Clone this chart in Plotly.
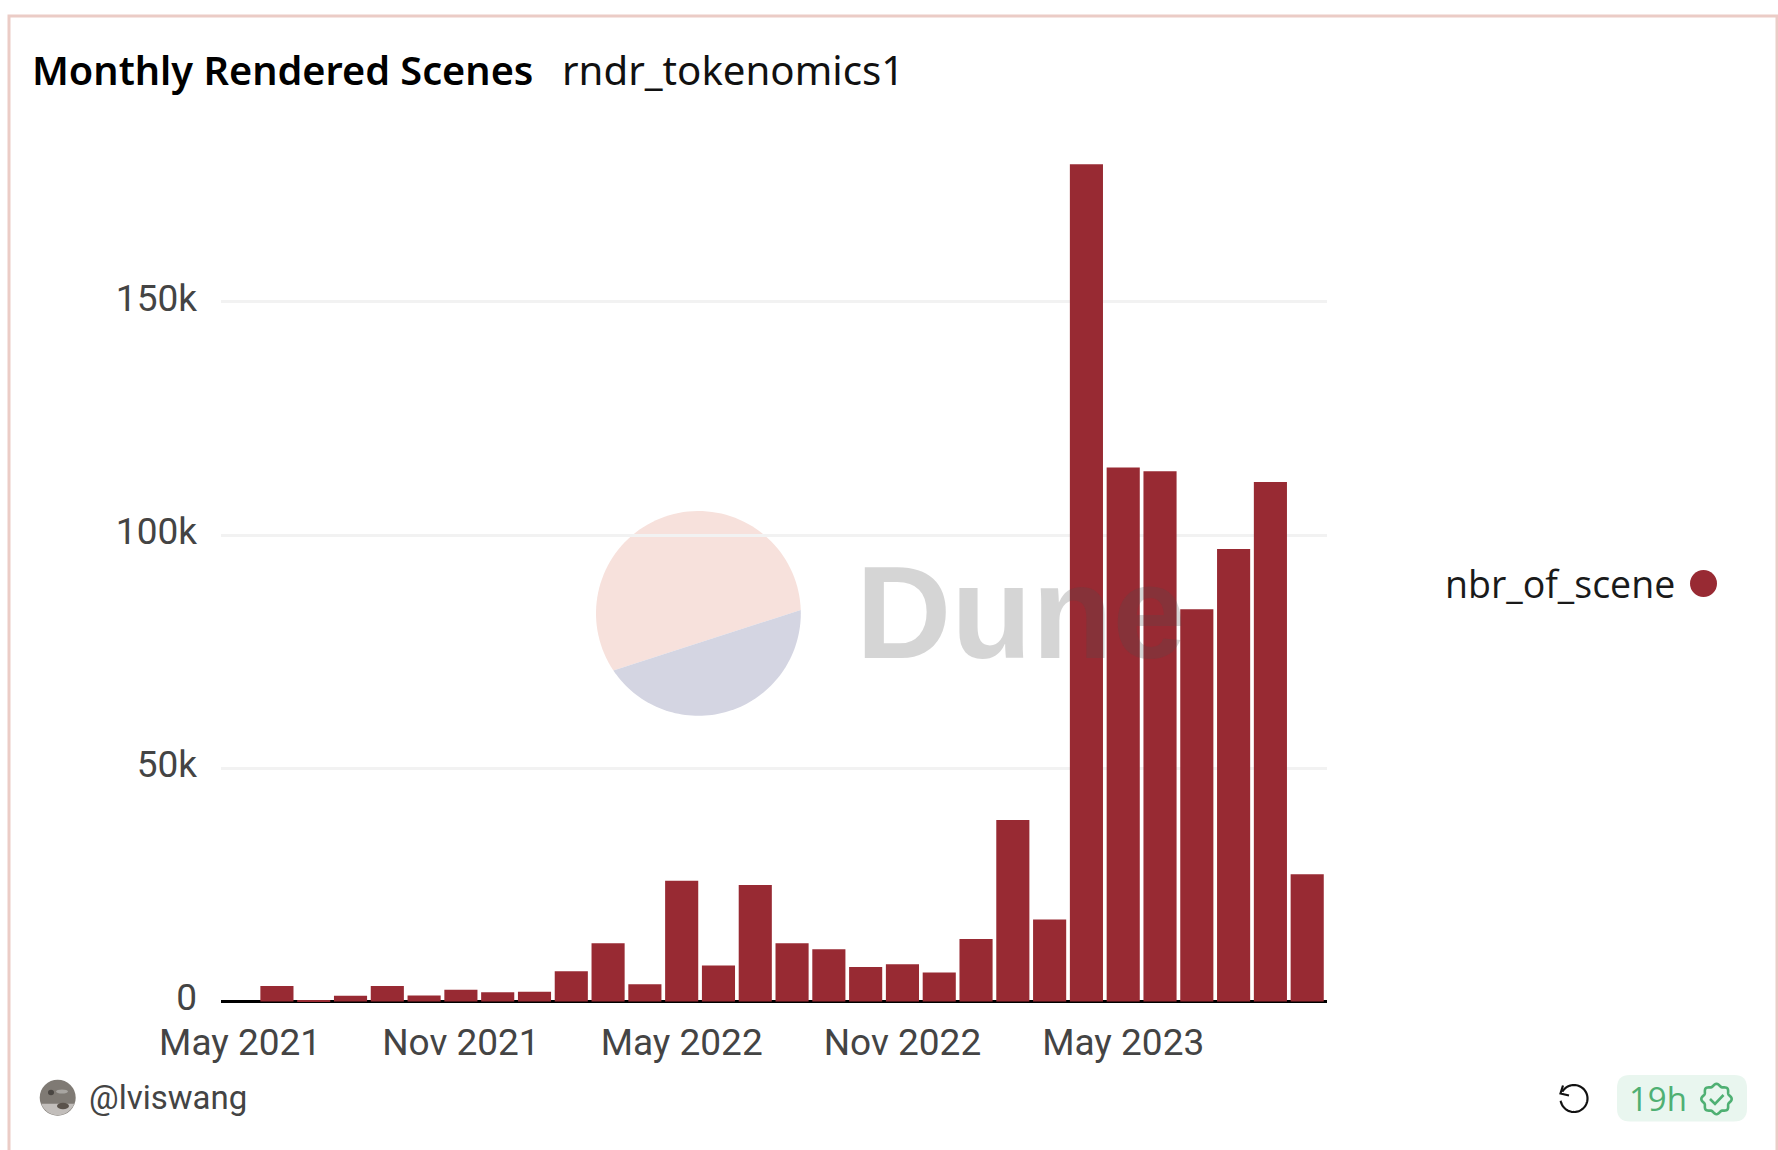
import numpy as np
import plotly.graph_objects as go

W, H = 1778, 1150

months = ["May 2021","Jun 2021","Jul 2021","Aug 2021","Sep 2021","Oct 2021","Nov 2021","Dec 2021",
          "Jan 2022","Feb 2022","Mar 2022","Apr 2022","May 2022","Jun 2022","Jul 2022","Aug 2022",
          "Sep 2022","Oct 2022","Nov 2022","Dec 2022","Jan 2023","Feb 2023","Mar 2023","Apr 2023",
          "May 2023","Jun 2023","Jul 2023","Aug 2023","Sep 2023","Oct 2023"]
nbr_of_scene = [0, 3300, 300, 1200, 3300, 1300, 2500, 2000, 2100, 6500, 12500, 3700, 25900, 7700, 25000,
                12500, 11200, 7400, 8000, 6200, 13400, 38900, 17600, 179500, 114500, 113700, 84100,
                97000, 111400, 27300]
x_ticks = ["May 2021", "Nov 2021", "May 2022", "Nov 2022", "May 2023"]
y_ticks = [0, 50000, 100000, 150000]
y_labels = ["0", "50k", "100k", "150k"]

RED = "#982a33"
AXIS_FONT = "Roboto, sans-serif"
TITLE_FONT = "'Noto Sans', sans-serif"


def px(x):
    return x / W


def py(y):
    return 1 - y / H


def poly(xs, ys, close=True):
    d = "M " + " L ".join(f"{px(a):.5f},{py(b):.5f}" for a, b in zip(xs, ys))
    return d + (" Z" if close else "")


def oval(cx, cy, rx, ry, fill):
    return dict(type="circle", xref="paper", yref="paper", x0=px(cx - rx), x1=px(cx + rx),
                y0=py(cy + ry), y1=py(cy - ry), line=dict(width=0), fillcolor=fill)


shapes = []

# panel border
shapes.append(dict(type="rect", xref="paper", yref="paper", x0=px(9), x1=px(1777), y0=py(16), y1=py(1170),
                   line=dict(color="#ebccc6", width=3), fillcolor="rgba(0,0,0,0)", layer="below"))

# watermark disc, split along a chord
cx, cy, r = 698.4, 613.4, 102.4
a0 = np.arctan2(cy - 610, 800.7 - cx)       # right end of the chord
a1 = np.arctan2(cy - 670, 614 - cx)         # left end of the chord
if a1 < a0:
    a1 += 2 * np.pi
t = np.linspace(a0, a1, 80)
shapes.append(dict(type="path", xref="paper", yref="paper", layer="below", line=dict(width=0),
                   fillcolor="#f7e1dc", path=poly(cx + r * np.cos(t), cy - r * np.sin(t))))
t = np.linspace(a1, a0 + 2 * np.pi, 80)
shapes.append(dict(type="path", xref="paper", yref="paper", layer="below", line=dict(width=0),
                   fillcolor="#d4d5e2", path=poly(cx + r * np.cos(t), cy - r * np.sin(t))))

# legend dot
shapes.append(oval(1703.5, 583.5, 13.5, 13.5, RED))

# avatar: a photo in the reference, approximated by a few soft patches
shapes.append(oval(57.7, 1097.7, 18, 18, "#7f7a74"))
t = np.linspace(np.radians(-160), np.radians(-20), 40)
shapes.append(dict(type="path", xref="paper", yref="paper", line=dict(width=0), fillcolor="#c2bebb",
                   path=poly(57.7 + 17.5 * np.cos(t), 1097.7 - 17.5 * np.sin(t))))
shapes.append(oval(63, 1106, 6, 3.2, "#5a524b"))
shapes.append(oval(51, 1092.5, 3, 2.8, "#4a4642"))
shapes.append(oval(62, 1091.5, 6, 2, "#a8a5a1"))

# refresh icon
t = np.linspace(np.radians(150), np.radians(-170), 60)
ix, iy = 1574, 1098.5
shapes.append(dict(type="path", xref="paper", yref="paper", line=dict(color="#111111", width=2.2),
                   path=poly(ix + 13.5 * np.cos(t), iy - 13.5 * np.sin(t), close=False)))
shapes.append(dict(type="path", xref="paper", yref="paper", line=dict(color="#111111", width=2.2),
                   path=poly([1563, 1560.5, 1569], [1085.5, 1093.5, 1095.5], close=False)))

# freshness badge
bx0, bx1, by0, by1, br = 1617, 1747, 1075, 1121.5, 13
shapes.append(dict(type="path", xref="paper", yref="paper", line=dict(width=0), fillcolor="#e9f6ef",
                   path=(f"M {px(bx0+br)},{py(by0)} L {px(bx1-br)},{py(by0)} Q {px(bx1)},{py(by0)} {px(bx1)},{py(by0+br)} "
                         f"L {px(bx1)},{py(by1-br)} Q {px(bx1)},{py(by1)} {px(bx1-br)},{py(by1)} "
                         f"L {px(bx0+br)},{py(by1)} Q {px(bx0)},{py(by1)} {px(bx0)},{py(by1-br)} "
                         f"L {px(bx0)},{py(by0+br)} Q {px(bx0)},{py(by0)} {px(bx0+br)},{py(by0)} Z")))
t = np.linspace(0, 2 * np.pi, 97)
sx, sy = 1716.5, 1099
rad = 14 + 1.2 * np.cos(8 * t)
shapes.append(dict(type="path", xref="paper", yref="paper", line=dict(color="#4fb073", width=2.6),
                   path=poly(sx + rad * np.cos(t), sy - rad * np.sin(t))))
shapes.append(dict(type="path", xref="paper", yref="paper", line=dict(color="#4fb073", width=2.6),
                   path=poly([sx - 6.5, sx - 1.5, sx + 7], [sy, sy + 5, sy - 4], close=False)))

annotations = [
    dict(text="Monthly Rendered Scenes", x=px(31), y=py(70), xanchor="left", yanchor="middle",
         font=dict(family=TITLE_FONT, size=39.7, color="#000000", weight=600)),
    dict(text="rndr_tokenomics1", x=px(561), y=py(70), xanchor="left", yanchor="middle",
         font=dict(family=TITLE_FONT, size=40.2, color="#111111")),
    dict(text="Dune", x=px(855), y=py(612), xanchor="left", yanchor="middle",
         font=dict(family="Liberation Sans", size=132, color="rgba(75,75,75,0.235)", weight=700)),
    dict(text="nbr_of_scene", x=px(1444), y=py(583), xanchor="left", yanchor="middle",
         font=dict(family="'Open Sans'", size=37.5, color="#1a1a1a")),
    dict(text="@lviswang", x=px(88), y=py(1097), xanchor="left", yanchor="middle",
         font=dict(family=AXIS_FONT, size=33, color="#444444")),
    dict(text="19h", x=px(1628), y=py(1098), xanchor="left", yanchor="middle",
         font=dict(family="'Open Sans'", size=33, color="#4fb073")),
]
for a in annotations:
    a.update(xref="paper", yref="paper", showarrow=False, borderpad=0)

fig = go.Figure(go.Bar(x=months, y=nbr_of_scene, name="nbr_of_scene", marker=dict(color=RED, line=dict(width=0))))

fig.update_layout(
    width=W, height=H, margin=dict(l=0, r=0, t=0, b=0, pad=0, autoexpand=False),
    paper_bgcolor="#ffffff", plot_bgcolor="rgba(0,0,0,0)", showlegend=False, bargap=0.1,
    font=dict(family=AXIS_FONT, size=36, color="#444444"),
    shapes=shapes, annotations=annotations,
)
fig.update_xaxes(
    domain=[px(221), px(1326.7)], type="category", categoryorder="array", categoryarray=months,
    range=[-0.52, 29.53], tickmode="array", tickvals=x_ticks, ticktext=x_ticks,
    ticks="", showgrid=False, showline=False, ticklabelstandoff=12, tickangle=0,
    tickfont=dict(family=AXIS_FONT, size=37, color="#444444"),
)
fig.update_yaxes(
    domain=[py(1005.2), py(162)], range=[-800, 180000], tickmode="array", tickvals=y_ticks, ticktext=y_labels,
    ticks="", showgrid=True, gridcolor="#f2f2f2", gridwidth=3,
    zeroline=True, zerolinecolor="#000000", zerolinewidth=3, showline=False,
    ticklabelstandoff=23, ticklabelshift=-4,
    tickfont=dict(family=AXIS_FONT, size=37, color="#444444"),
)

fig.write_html("out.html", config=dict(displayModeBar=False),
               post_script="document.body.style.margin='0';document.documentElement.style.overflow='hidden';")
